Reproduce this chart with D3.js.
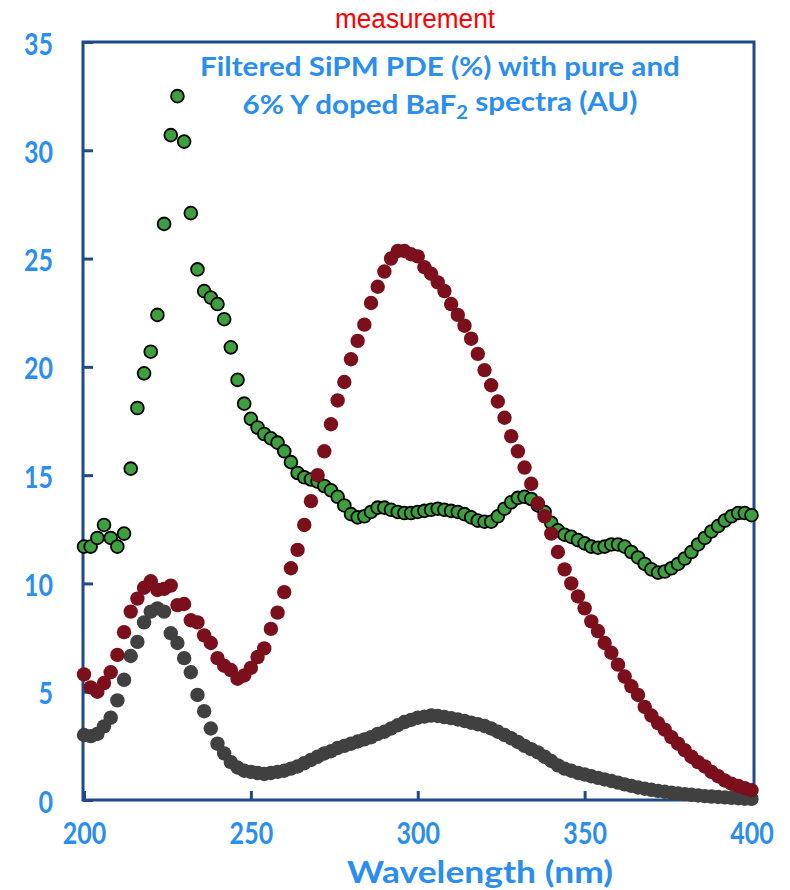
<!DOCTYPE html>
<html>
<head>
<meta charset="utf-8">
<script src="https://cdn.jsdelivr.net/npm/d3@7/dist/d3.min.js"></script>
<style>
  html, body { margin: 0; padding: 0; background: #fff; }
  svg { display: block; }
</style>
</head>
<body>
<svg id="chart" width="790" height="890"></svg>
<script>
// ---- data (wavelength every 2 nm, 200..400) ----
const wavelengths = d3.range(200, 401, 2);

const grayValues = [
  3.0, 2.95, 3.05, 3.4, 3.8, 4.6, 5.55, 6.65, 7.3, 8.2,
  8.7, 8.85, 8.7, 7.7, 7.25, 6.55, 5.9, 4.85, 4.1, 3.3,
  2.6, 2.15, 1.75, 1.5, 1.35, 1.3, 1.25, 1.2, 1.25, 1.3,
  1.35, 1.45, 1.55, 1.7, 1.85, 2.0, 2.15, 2.25, 2.4, 2.5,
  2.6, 2.7, 2.8, 2.9, 3.05, 3.15, 3.3, 3.45, 3.6, 3.7,
  3.8, 3.85, 3.9, 3.88, 3.83, 3.78, 3.72, 3.65, 3.57, 3.5,
  3.42, 3.3, 3.15, 3.0, 2.85, 2.68, 2.5, 2.35, 2.2, 2.0,
  1.8, 1.6, 1.45, 1.35, 1.25, 1.18, 1.1, 1.02, 0.95, 0.88,
  0.8, 0.72, 0.65, 0.58, 0.52, 0.47, 0.42, 0.38, 0.34, 0.3,
  0.27, 0.24, 0.21, 0.18, 0.16, 0.14, 0.12, 0.1, 0.08, 0.06,
  0.05
];

const redValues = [
  5.8, 5.2, 5.0, 5.4, 5.9, 6.7, 7.75, 8.7, 9.3, 9.8,
  10.1, 9.7, 9.75, 9.9, 9.0, 9.05, 8.3, 8.2, 7.6, 7.25,
  6.55, 6.2, 6.0, 5.6, 5.75, 6.1, 6.6, 7.0, 7.9, 8.65,
  9.6, 10.7, 11.55, 12.7, 13.8, 15.0, 16.1, 17.35, 18.45, 19.3,
  20.35, 21.2, 21.95, 22.95, 23.7, 24.4, 25.0, 25.35, 25.35, 25.2,
  25.1, 24.6, 24.3, 23.9, 23.5, 22.9, 22.4, 21.9, 21.3, 20.6,
  19.85, 19.15, 18.4, 17.65, 16.8, 16.1, 15.35, 14.6, 13.7, 13.1,
  12.3, 11.45, 10.65, 10.0, 9.4, 8.85, 8.25, 7.8, 7.25, 6.8,
  6.25, 5.7, 5.25, 4.85, 4.3, 3.9, 3.55, 3.25, 2.9, 2.6,
  2.3, 2.0, 1.75, 1.55, 1.3, 1.1, 0.9, 0.75, 0.65, 0.55,
  0.45
];

const greenValues = [
  11.7, 11.7, 12.1, 12.7, 12.1, 11.7, 12.3, 15.3, 18.1, 19.7,
  20.7, 22.4, 26.6, 30.7, 32.5, 30.4, 27.1, 24.5, 23.5, 23.2,
  22.9, 22.2, 20.9, 19.4, 18.3, 17.6, 17.2, 16.9, 16.7, 16.5,
  16.1, 15.6, 15.1, 14.9, 14.8, 14.7, 14.5, 14.3, 14.0, 13.6,
  13.2, 13.05, 13.1, 13.3, 13.5, 13.5, 13.4, 13.3, 13.25, 13.25,
  13.3, 13.35, 13.4, 13.45, 13.4, 13.35, 13.3, 13.2, 13.05, 12.9,
  12.85, 12.85, 13.1, 13.45, 13.75, 13.95, 14.0, 13.9, 13.6, 13.3,
  12.8, 12.45, 12.25, 12.15, 12.0, 11.85, 11.7, 11.65, 11.7, 11.8,
  11.8, 11.7, 11.45, 11.2, 10.9, 10.65, 10.5, 10.55, 10.7, 10.9,
  11.15, 11.45, 11.8, 12.1, 12.4, 12.65, 12.9, 13.1, 13.25, 13.25,
  13.15
];

const xTicks = [200, 250, 300, 350, 400];
const yTicks = [0, 5, 10, 15, 20, 25, 30, 35];

const titleText = "measurement";
const subtitleLine1 = "Filtered SiPM PDE (%) with pure and";
const subtitleLine2a = "6% Y doped BaF";
const subtitleLine2sub = "2";
const subtitleLine2b = " spectra (AU)";
const xAxisTitle = "Wavelength (nm)";

// ---- layout ----
const svg = d3.select("#chart");
const axisColor = "#1f4a8a";
const labelColor = "#2a8ef0";
const fontFam = "Lato, 'Open Sans', sans-serif";

const x = d3.scaleLinear().domain([200, 400]).range([84, 751.5]);
const y = d3.scaleLinear().domain([0, 35]).range([800, 42]);

// frame
svg.append("rect")
  .attr("x", 83).attr("y", 42)
  .attr("width", 754 - 83).attr("height", 800 - 42)
  .attr("fill", "none")
  .attr("stroke", axisColor)
  .attr("stroke-width", 3);

// axes
const gy = svg.append("g").attr("transform", "translate(83,0)")
  .call(d3.axisLeft(y).tickValues(yTicks).tickSizeInner(-10).tickSizeOuter(0).tickPadding(30));
const gx = svg.append("g").attr("transform", "translate(0,800)")
  .call(d3.axisBottom(x).tickValues(xTicks).tickSizeInner(-9).tickSizeOuter(0).tickPadding(23));

// condensed look (Calibri-like): larger glyphs, compressed to the reference width
function condense(sel, natSize, bigSize) {
  sel.each(function () {
    const t = d3.select(this);
    t.style("font-size", natSize + "px");
    const w = this.getComputedTextLength();
    t.style("font-size", bigSize + "px")
     .attr("textLength", w)
     .attr("lengthAdjust", "spacingAndGlyphs");
  });
}

[gx, gy].forEach(g => {
  g.select(".domain").remove();
  g.selectAll(".tick line").attr("stroke", axisColor).attr("stroke-width", 3);
  g.selectAll(".tick text")
    .attr("fill", labelColor)
    .style("font-family", fontFam)
    .style("font-weight", "bold");
  condense(g.selectAll(".tick text"), 25, 30);
});
gy.selectAll(".tick text").attr("dy", "0.4em");
gx.selectAll(".tick text").attr("dy", "0.71em");

// series
function drawSeries(values, opts) {
  const data = wavelengths.map((w, i) => ({ w, v: values[i] }));
  svg.append("g")
    .selectAll("circle")
    .data(data)
    .join("circle")
    .attr("cx", d => x(d.w))
    .attr("cy", d => y(d.v))
    .attr("r", opts.r)
    .attr("fill", opts.fill)
    .attr("stroke", opts.stroke || "none")
    .attr("stroke-width", opts.sw || 0);
}
drawSeries(grayValues, { r: 7.2, fill: "#404040" });
drawSeries(greenValues, { r: 6.4, fill: "#3e9f3e", stroke: "#000", sw: 1.8 });
drawSeries(redValues, { r: 7.2, fill: "#7c0f1c" });

// title
svg.append("text")
  .attr("x", 415).attr("y", 28)
  .attr("text-anchor", "middle")
  .attr("fill", "#ff0000")
  .style("font-family", "'Liberation Sans', Arial, sans-serif")
  .style("font-size", "27px")
  .attr("textLength", 160)
  .attr("lengthAdjust", "spacingAndGlyphs")
  .text(titleText);

// subtitle: two centered lines, horizontally fitted to the reference width
function fittedLine(yPos, targetW, build, fsz, scaleX) {
  const g = svg.append("g");
  const t = g.append("text")
    .attr("x", 0).attr("y", 0)
    .attr("text-anchor", "middle")
    .attr("fill", labelColor)
    .style("font-family", fontFam)
    .style("font-weight", "bold")
    .style("font-size", fsz + "px");
  build(t);
  const w = t.node().getComputedTextLength();
  const sx = scaleX || targetW / w;
  g.attr("transform", `translate(440,${yPos}) scale(${sx},1)`);
  return sx;
}
const sub1 = fittedLine(76, 480, t => t.text(subtitleLine1), 26.5);
fittedLine(114, 0, t => {
  t.append("tspan").text(subtitleLine2a);
  t.append("tspan").attr("dy", "0.3em").style("font-size", (26.5 * 0.68) + "px").text(subtitleLine2sub);
  t.append("tspan").attr("dy", "-0.3em").text(subtitleLine2b);
}, 26.5, sub1);

// x axis title
const gt = svg.append("g");
const xt = gt.append("text")
  .attr("x", 0).attr("y", 0)
  .attr("text-anchor", "middle")
  .attr("fill", labelColor)
  .style("font-family", fontFam)
  .style("font-weight", "bold")
  .style("font-size", "31px")
  .text(xAxisTitle);
const wt = xt.node().getComputedTextLength();
gt.attr("transform", `translate(480,883) scale(${266 / wt},1)`);
</script>
</body>
</html>
